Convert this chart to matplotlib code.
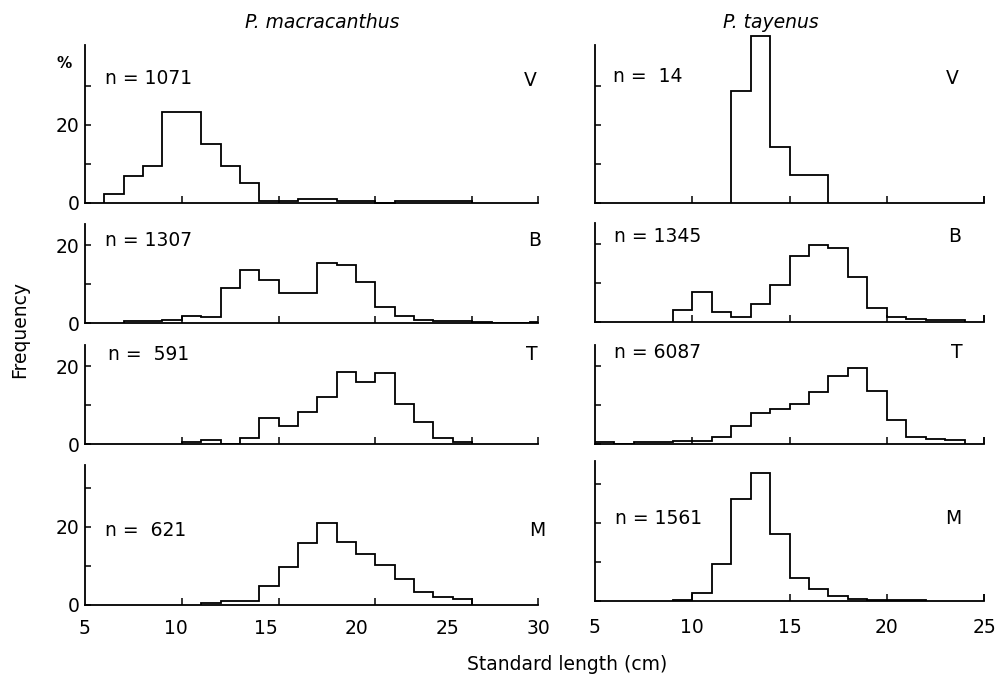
import matplotlib
matplotlib.use("Agg")
import matplotlib.pyplot as plt
import numpy as np

# ---------------- data (percent frequency per 1-cm length class) ----------------
species = ["P. macracanthus", "P. tayenus"]
regions = ["V", "B", "T", "M"]

mac_V_start, mac_V = 6, [2.2, 7.0, 9.6, 23.3, 23.3, 15.1, 9.6, 5.2, 0.6, 0.5, 0.9, 0.9,
                         0.6, 0.5, 0.1, 0.4, 0.4, 0.4, 0.4]
mac_B_start, mac_B = 7, [0.4, 0.4, 0.8, 1.7, 1.5, 9.0, 13.6, 10.9, 7.8, 7.8, 15.5, 14.9,
                         10.6, 4.0, 1.7, 0.8, 0.6, 0.5, 0.3, 0.0, 0.0, 0.3]
mac_T_start, mac_T = 10, [0.6, 1.0, 0.0, 1.5, 6.7, 4.7, 8.1, 12.1, 18.5, 16.0, 18.3, 10.2,
                          5.7, 1.5, 0.6]
mac_M_start, mac_M = 11, [0.5, 1.1, 1.1, 4.9, 9.8, 15.8, 20.9, 16.1, 13.1, 10.2, 6.6, 3.4,
                          2.0, 1.5]

tay_V_start, tay_V = 12, [28.6, 42.9, 14.3, 7.1, 7.1]
tay_B_start, tay_B = 9, [3.1, 7.6, 2.6, 1.4, 4.6, 9.5, 16.9, 19.7, 18.9, 11.6, 3.5, 1.2,
                         0.8, 0.5, 0.4]
tay_T_start, tay_T = 5, [0.6, 0.0, 0.5, 0.6, 0.7, 0.8, 1.9, 4.7, 7.9, 9.0, 10.3, 13.3, 17.4,
                         19.4, 13.7, 6.2, 1.7, 1.2, 1.0]
tay_M_start, tay_M = 9, [0.3, 2.0, 9.4, 26.1, 32.7, 17.1, 6.0, 3.0, 1.3, 0.4, 0.3, 0.3, 0.3]

mac_n = ["1071", "1307", " 591", " 621"]
tay_n = [" 14", "1345", "6087", "1561"]

left_xticklabels = [5, 10, 15, 20, 25, 30]
right_xticklabels = [5, 10, 15, 20, 25]

series = {
    (0, 0): (mac_V_start, mac_V), (1, 0): (mac_B_start, mac_B),
    (2, 0): (mac_T_start, mac_T), (3, 0): (mac_M_start, mac_M),
    (0, 1): (tay_V_start, tay_V), (1, 1): (tay_B_start, tay_B),
    (2, 1): (tay_T_start, tay_T), (3, 1): (tay_M_start, tay_M),
}
ns = {0: mac_n, 1: tay_n}

# ---------------- layout (pixels) ----------------
W, H = 997, 675
PXU = 3.9  # pixels per percent
cols = [(85, 538, 28.4), (595, 984, 25.0)]
rows_bottom = [[203, 203], [323, 322], [444, 444], [605, 601]]
rows_top = [40.5, 25.5, 25.4, 36.0]
yticks = [[10, 20, 30], [10, 20], [10, 20], [10, 20, 30]]
n_pos = {0: [(105, 79), (105, 241), (108, 355), (105, 530)],
         1: [(613, 77), (614, 236), (614, 353), (615, 518)]}
r_pos = {0: [(530, 80), (535, 241), (532, 355), (537, 530)],
         1: [(952, 78), (955, 236), (957, 353), (953, 518)]}

plt.rcParams['font.family'] = ['DejaVu Sans']
fig = plt.figure(figsize=(W / 100, H / 100), dpi=100)

FS = 13.5
LW = 1.3

def fx(px):
    return px / W

def fy(py):
    return 1 - py / H

K = 25.0 / (28.4 - 5.0)

for r in range(4):
    for c in range(2):
        x0, x1, xmax = cols[c]
        bot = rows_bottom[r][c]
        top_val = rows_top[r]
        h = top_val * PXU
        ax = fig.add_axes([fx(x0), fy(bot), (x1 - x0) / W, h / H])
        start, vals = series[(r, c)]
        edges = np.arange(start, start + len(vals) + 1)
        ax.stairs(vals, edges, baseline=0, color='black', linewidth=LW,
                  clip_on=(r != 0))
        ax.set_xlim(5, xmax)
        ax.set_ylim(0, top_val)
        for s in ['top', 'right']:
            ax.spines[s].set_visible(False)
        for s in ['left', 'bottom']:
            ax.spines[s].set_linewidth(LW)
        ax.set_xticks([10, 15, 20, 25, xmax])
        ax.set_xticklabels([])
        ax.set_yticks([0] + yticks[r])
        if c == 0:
            ax.set_yticklabels(['0' if t == 0 else ('20' if t == 20 else '') for t in [0] + yticks[r]])
        else:
            ax.set_yticklabels([])
        ax.tick_params(direction='in', length=4, width=1.1, labelsize=FS, pad=4)
        ax.tick_params(axis='x', length=5)

        if r == 3:
            if c == 0:
                sec = ax.secondary_xaxis('bottom', functions=(lambda x: 5 + (x - 5) * K,
                                                              lambda v: 5 + (v - 5) / K))
                sec.set_xticks(left_xticklabels)
                sec.tick_params(length=0, labelsize=FS, pad=10)
                sec.spines['bottom'].set_visible(False)
            else:
                sec = ax.secondary_xaxis('bottom')
                sec.set_xticks(right_xticklabels)
                sec.tick_params(length=0, labelsize=FS, pad=12)
                sec.spines['bottom'].set_visible(False)

        nx, ny = n_pos[c][r]
        fig.text(fx(nx), fy(ny), "n = " + ns[c][r], fontsize=FS, ha='left', va='center')
        rx, ry = r_pos[c][r]
        fig.text(fx(rx), fy(ry), regions[r], fontsize=FS, ha='center', va='center')

fig.text(fx(64), fy(63), "%", fontsize=11, ha='center', va='center', fontweight='bold')
fig.text(fx(322), fy(22), species[0], fontsize=FS, style='italic', ha='center', va='center')
fig.text(fx(771), fy(22), species[1], fontsize=FS, style='italic', ha='center', va='center')
fig.text(fx(20), fy(330), "Frequency", fontsize=FS, rotation=90, ha='center', va='center')
fig.text(fx(567), fy(665), "Standard length (cm)", fontsize=FS, ha='center', va='center')

fig.savefig("out.png", dpi=100)
